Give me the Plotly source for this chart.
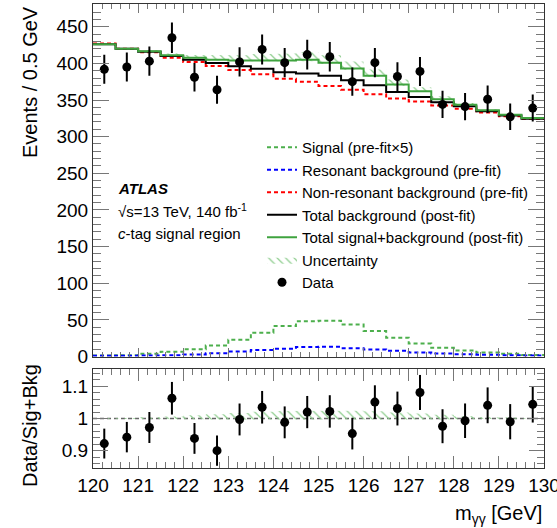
import plotly.graph_objects as go
import numpy as np

# ---------------- data ----------------
bin_edges = [120.0 + 0.5 * i for i in range(21)]
bin_centers = [120.25 + 0.5 * i for i in range(20)]

data_counts = [392, 395, 403, 435, 381, 364, 402, 419, 401, 412,
               409, 375, 401, 382, 389, 344, 341, 351, 327, 339]
nonres_prefit = [427, 420, 415, 407.5, 402, 396.5, 391, 385, 379, 375,
                 369, 364, 358, 352, 348, 342.5, 338, 333, 328, 324.5]
total_bkg_postfit = [426, 420, 416, 410, 405, 400.5, 396, 392.5, 388, 386,
                     383, 377, 370, 361, 354, 347, 341.5, 334.5, 329, 324.5]
total_sb_postfit = [426, 420, 416.5, 411, 407.5, 405, 404, 404, 404, 405,
                    401, 393, 383, 371, 362, 351, 343.5, 336, 330, 325.5]
signal_prefit_x5 = [1.4, 1.8, 3.6, 6.4, 10, 15, 22.8, 32.4, 41.5, 48,
                    48.8, 43.8, 34.7, 25.6, 17.8, 11.8, 8.2, 5.5, 3.6, 2.2]
resonant_prefit = [0.9, 0.9, 1.4, 1.8, 2.7, 4.6, 6.8, 8.7, 10.5, 12.8,
                   13.2, 11.4, 9.6, 7.8, 5.5, 4.1, 3.2, 2.3, 1.8, 1.4]
unc_up = [0.5, 0.8, 1.5, 2.5, 4, 5.5, 7, 8.5, 9.5, 10,
          10, 9.5, 8.5, 7, 5.5, 4, 2.5, 1.5, 0.8, 0.5]
unc_down = [0.2, 0.3, 0.5, 0.8, 1.0, 1.2, 1.4, 1.6, 1.8, 2.0,
            2.0, 1.8, 1.6, 1.4, 1.2, 1.0, 0.8, 0.5, 0.3, 0.2]
ratio_vals = [0.922, 0.942, 0.972, 1.063, 0.938, 0.900, 0.997, 1.035, 0.988, 1.020,
              1.022, 0.953, 1.051, 1.031, 1.081, 0.976, 0.993, 1.041, 0.990, 1.044]

y_ticks_top = [0, 50, 100, 150, 200, 250, 300, 350, 400, 450]
y_ticks_ratio = [0.9, 1.0, 1.1]
y_ticklabels_ratio = ["0.9", "1", "1.1"]
x_ticks = list(range(120, 131))

# ---------------- geometry helpers ----------------
W, H = 557, 528
ML, MR, MT, MB = 93, 13, 4, 60
PW, PH = W - ML - MR, H - MT - MB


def px_x(p):
    return (p - ML) / PW


def px_y(p):
    return (H - MB - p) / PH


FONT = "Liberation Sans, Arial, Helvetica, sans-serif"
GREEN = "#3fa33f"
GREEN_DASH = "#4caf4c"
FRAME = "#333333"
TICKC = "#777777"


def step(vals):
    return list(vals) + [vals[-1]]


fig = go.Figure()

# uncertainty band (top)
up = [s + u for s, u in zip(total_sb_postfit, unc_up)]
dn = [s - d for s, d in zip(total_sb_postfit, unc_down)]
bx, by = [], []
for i in range(20):
    bx += [bin_edges[i], bin_edges[i + 1]]
    by += [up[i], up[i]]
for i in reversed(range(20)):
    bx += [bin_edges[i + 1], bin_edges[i]]
    by += [dn[i], dn[i]]
HATCH = dict(shape="\\", fgcolor="#8ccc8c", bgcolor="rgba(0,0,0,0)", size=6, solidity=0.2)
fig.add_trace(go.Scatter(
    x=bx, y=by, xaxis="x2", yaxis="y", mode="lines", fill="toself",
    line=dict(width=0, color="rgba(0,0,0,0)"),
    fillcolor="rgba(0,0,0,0)", fillpattern=HATCH,
    name="Uncertainty", legendrank=6, hoverinfo="skip"))

# ratio band
rbx, rby = [], []
rup = [u / s for u, s in zip(up, total_sb_postfit)]
rdn = [d / s for d, s in zip(dn, total_sb_postfit)]
for i in range(20):
    rbx += [bin_edges[i], bin_edges[i + 1]]
    rby += [rup[i], rup[i]]
for i in reversed(range(20)):
    rbx += [bin_edges[i + 1], bin_edges[i]]
    rby += [rdn[i], rdn[i]]
fig.add_trace(go.Scatter(
    x=rbx, y=rby, xaxis="x", yaxis="y2", mode="lines", fill="toself",
    line=dict(width=0, color="rgba(0,0,0,0)"),
    fillcolor="rgba(0,0,0,0)", fillpattern=HATCH,
    showlegend=False, hoverinfo="skip"))

dash = "4px,3px"
fig.add_trace(go.Scatter(x=bin_edges, y=step(signal_prefit_x5), xaxis="x2", yaxis="y",
                         mode="lines", line=dict(shape="hv", color=GREEN_DASH, width=2, dash=dash),
                         name="Signal (pre-fit×5)", legendrank=1))
fig.add_trace(go.Scatter(x=bin_edges, y=step(resonant_prefit), xaxis="x2", yaxis="y",
                         mode="lines", line=dict(shape="hv", color="#0000ff", width=2, dash=dash),
                         name="Resonant background (pre-fit)", legendrank=2))
fig.add_trace(go.Scatter(x=bin_edges, y=step(nonres_prefit), xaxis="x2", yaxis="y",
                         mode="lines", line=dict(shape="hv", color="#ff0000", width=2, dash=dash),
                         name="Non-resonant background (pre-fit)", legendrank=3))
fig.add_trace(go.Scatter(x=bin_edges, y=step(total_bkg_postfit), xaxis="x2", yaxis="y",
                         mode="lines", line=dict(shape="hv", color="#000000", width=2),
                         name="Total background (post-fit)", legendrank=4))
fig.add_trace(go.Scatter(x=bin_edges, y=step(total_sb_postfit), xaxis="x2", yaxis="y",
                         mode="lines", line=dict(shape="hv", color=GREEN, width=2),
                         name="Total signal+background (post-fit)", legendrank=5))

data_err = [float(np.sqrt(v)) for v in data_counts]
fig.add_trace(go.Scatter(x=bin_centers, y=data_counts, xaxis="x2", yaxis="y",
                         mode="markers", marker=dict(color="black", size=9),
                         error_y=dict(type="data", array=data_err, color="black", thickness=2, width=0),
                         name="Data", legendrank=7))

ratio_err = [e / s for e, s in zip(data_err, total_sb_postfit)]
fig.add_trace(go.Scatter(x=bin_centers, y=ratio_vals, xaxis="x", yaxis="y2",
                         mode="markers", marker=dict(color="black", size=9),
                         error_y=dict(type="data", array=ratio_err, color="black", thickness=2, width=0),
                         showlegend=False))

fig.add_shape(type="line", xref="x", yref="y2", x0=120, x1=130, y0=1, y1=1,
              line=dict(color="#666666", width=1.5, dash="4px,3px"), layer="below")

axis_common = dict(showline=True, linecolor=FRAME, linewidth=1, mirror="allticks",
                   ticks="inside", tickcolor=TICKC, showgrid=False, zeroline=False,
                   automargin=False, ticklabeloverflow="allow",
                   tickfont=dict(family=FONT, size=19, color="black"))

fig.update_layout(
    template="none",
    width=W, height=H,
    margin=dict(l=ML, r=MR, t=MT, b=MB, autoexpand=False),
    paper_bgcolor="white", plot_bgcolor="white",
    font=dict(family=FONT, size=15, color="black"),
    xaxis=dict(domain=[0, 1], anchor="y2", range=[120, 130], tickvals=x_ticks,
               ticklen=12, tickwidth=1,
               minor=dict(dtick=0.2, ticklen=6, ticks="inside", tickcolor=TICKC, showgrid=False),
               **axis_common),
    xaxis2=dict(domain=[0, 1], anchor="y", matches="x", range=[120, 130], tickvals=x_ticks,
                showticklabels=False, ticklen=9, tickwidth=1,
                minor=dict(dtick=0.2, ticklen=4.5, ticks="inside", tickcolor=TICKC, showgrid=False),
                **axis_common),
    yaxis=dict(domain=[px_y(356.5), 1], anchor="x2", range=[0, 481], tickvals=y_ticks_top,
               ticklen=16, tickwidth=1,
               minor=dict(dtick=10, ticklen=8, ticks="inside", tickcolor=TICKC, showgrid=False),
               **axis_common),
    yaxis2=dict(domain=[0, px_y(369)], anchor="x", range=[0.846, 1.154], tickvals=y_ticks_ratio,
                ticktext=y_ticklabels_ratio, ticklen=15, tickwidth=1,
                minor=dict(dtick=0.02, ticklen=7, ticks="inside", tickcolor=TICKC, showgrid=False),
                **axis_common),
    legend=dict(x=px_x(262), y=px_y(131), xanchor="left", yanchor="top",
                bgcolor="rgba(0,0,0,0)", font=dict(family=FONT, size=15),
                itemwidth=30, tracegroupgap=0),
    showlegend=True,
)

fig.add_annotation(text="Events / 0.5 GeV", xref="paper", yref="paper",
                   x=px_x(30), y=1.0, xanchor="center", yanchor="top", textangle=-90,
                   showarrow=False, font=dict(family=FONT, size=20))
fig.add_annotation(text="Data/Sig+Bkg", xref="paper", yref="paper",
                   x=px_x(30), y=px_y(426), xanchor="center", yanchor="middle", textangle=-90,
                   showarrow=False, font=dict(family=FONT, size=20))
fig.add_annotation(text="m<sub>γγ</sub> [GeV]", xref="paper", yref="paper",
                   x=1.0, y=px_y(514), xanchor="right", yanchor="middle",
                   showarrow=False, font=dict(family=FONT, size=20))
fig.add_annotation(text="<b><i>ATLAS</i></b>", xref="paper", yref="paper",
                   x=px_x(116), y=px_y(189), xanchor="left", yanchor="middle",
                   showarrow=False, font=dict(family=FONT, size=15))
fig.add_annotation(text="√s=13 TeV, 140 fb<sup>-1</sup>", xref="paper", yref="paper",
                   x=px_x(116), y=px_y(210), xanchor="left", yanchor="middle",
                   showarrow=False, font=dict(family=FONT, size=15))
fig.add_annotation(text="<i>c</i>-tag signal region", xref="paper", yref="paper",
                   x=px_x(116), y=px_y(233), xanchor="left", yanchor="middle",
                   showarrow=False, font=dict(family=FONT, size=15))

fig.write_html("out.html", config={"displayModeBar": False},
               post_script="document.body.style.margin='0';document.body.style.overflow='hidden';")
